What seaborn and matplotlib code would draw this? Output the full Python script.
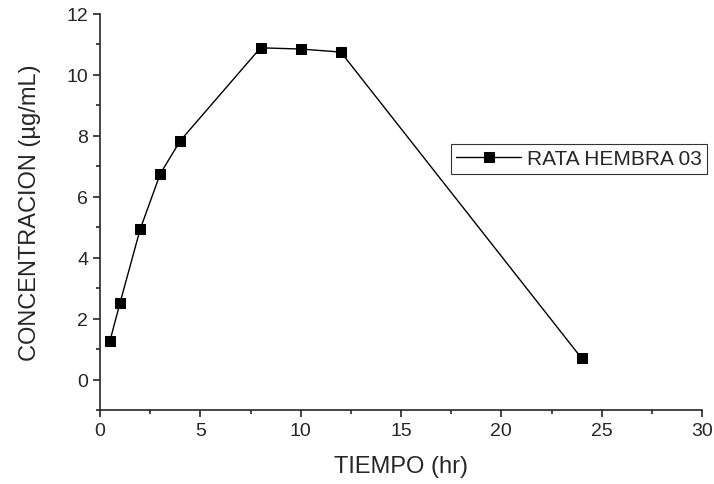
import matplotlib
matplotlib.use("Agg")
import matplotlib.pyplot as plt
import seaborn as sns
import pandas as pd
from matplotlib.ticker import MultipleLocator

tiempo = [0.5, 1, 2, 3, 4, 8, 10, 12, 24]
concentracion = [1.28, 2.52, 4.93, 6.75, 7.84, 10.89, 10.85, 10.75, 0.70]
serie = "RATA HEMBRA 03"

sns.set_style("ticks")
plt.rcParams['font.family'] = ['Liberation Sans', 'DejaVu Sans']

df = pd.DataFrame({"t": tiempo, "c": concentracion, "s": serie})

fig = plt.figure(figsize=(7.14, 4.85), dpi=100)
ax = fig.add_axes([100/714, 1-411/485, 602/714, 396/485])
sns.lineplot(data=df, x="t", y="c", hue="s", palette=["black"], marker="s",
             markersize=7, markeredgecolor="black", linewidth=1.0, ax=ax)

ax.set_xlim(0, 30)
ax.set_ylim(-1, 12)
ax.xaxis.set_major_locator(MultipleLocator(5))
ax.xaxis.set_minor_locator(MultipleLocator(2.5))
ax.yaxis.set_major_locator(MultipleLocator(2))
ax.yaxis.set_minor_locator(MultipleLocator(1))
ax.set_yticks([0, 2, 4, 6, 8, 10, 12])
ax.tick_params(which="major", length=5, width=1.2, labelsize=14, direction="out")
ax.tick_params(which="minor", length=3, width=1.2, direction="out")
for s in ["left", "bottom"]:
    ax.spines[s].set_linewidth(1.2)
sns.despine(ax=ax)
ax.set_xlabel("TIEMPO (hr)", fontsize=17, labelpad=12)
ax.set_ylabel("CONCENTRACION (µg/mL)", fontsize=17, labelpad=18)

leg = ax.legend(loc="center left", bbox_to_anchor=(451/714, 1-160/485),
                bbox_transform=fig.transFigure, frameon=True, fancybox=False,
                fontsize=15, handlelength=3.1, borderpad=0.25, handletextpad=0.3,
                borderaxespad=0)
leg.get_frame().set_edgecolor("black")
leg.get_frame().set_linewidth(0.8)

fig.savefig("out.png", dpi=100)
